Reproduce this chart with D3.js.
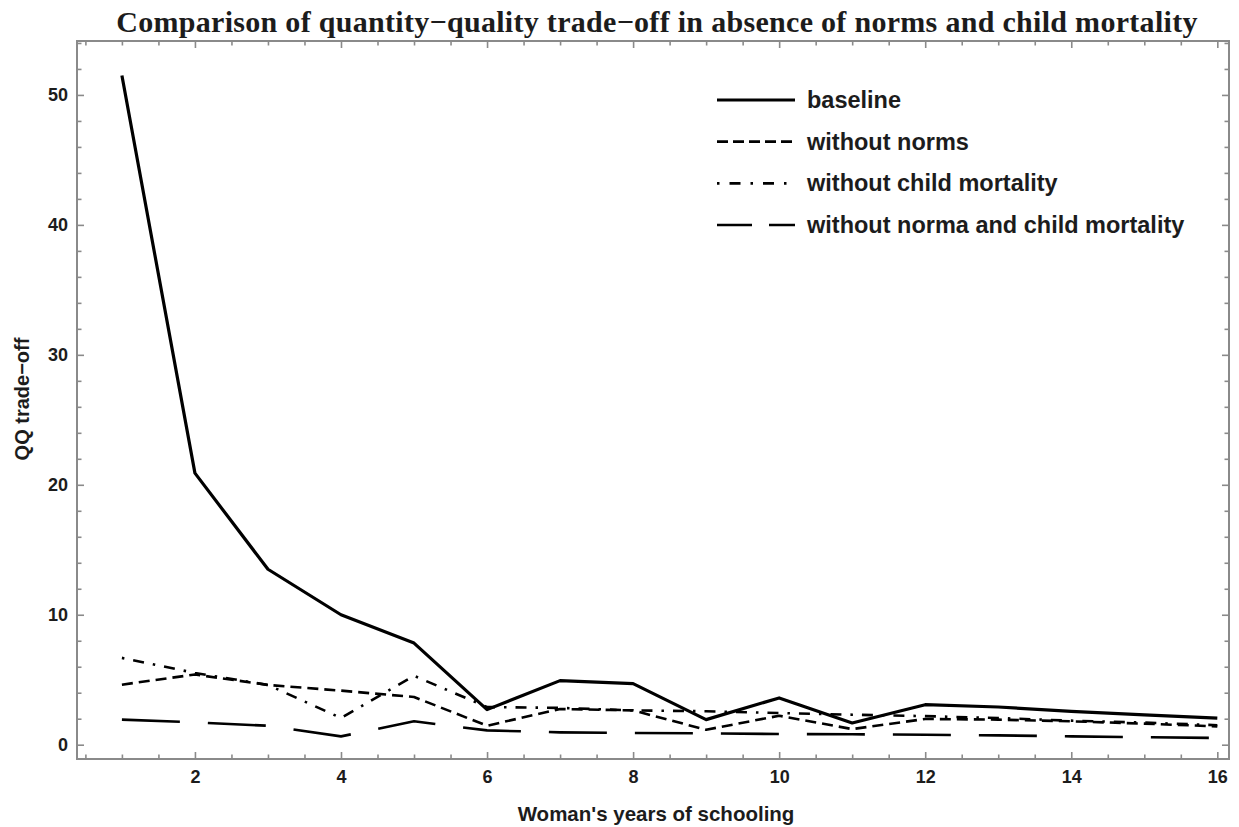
<!DOCTYPE html>
<html>
<head>
<meta charset="utf-8">
<script src="https://cdn.jsdelivr.net/npm/d3@7"></script>
<style>
  html, body { margin: 0; padding: 0; background: #fff; }
  svg { display: block; }
</style>
</head>
<body>
<svg id="chart" width="1239" height="827"></svg>
<script>
// Years of schooling (x) and QQ trade-off for each scenario
const years = [1, 2, 3, 4, 5, 6, 7, 8, 9, 10, 11, 12, 13, 14, 15, 16];
const baseline = [51.5, 20.9, 13.5, 10.0, 7.82, 2.7, 4.93, 4.7, 1.93, 3.6, 1.67, 3.08, 2.9, 2.57, 2.3, 2.05];
const withoutNorms = [4.62, 5.4, 4.6, 4.16, 3.67, 1.46, 2.75, 2.64, 1.15, 2.23, 1.2, 1.98, 1.93, 1.8, 1.62, 1.41];
const withoutChildMortality = [6.68, 5.52, 4.6, 2.05, 5.3, 2.9, 2.83, 2.64, 2.57, 2.44, 2.31, 2.2, 2.05, 1.85, 1.7, 1.5];
const withoutBoth = [1.93, 1.72, 1.46, 0.64, 1.8, 1.1, 0.95, 0.9, 0.88, 0.82, 0.8, 0.77, 0.72, 0.64, 0.58, 0.52];

const seriesNames = ["baseline", "without norms", "without child mortality", "without norma and child mortality"];

// Axis ticks
const xMajorTicks = [2, 4, 6, 8, 10, 12, 14, 16];
const xMinorTicks = [0.5, 1, 1.5, 2.5, 3, 3.5, 4.5, 5, 5.5, 6.5, 7, 7.5, 8.5, 9, 9.5, 10.5, 11, 11.5, 12.5, 13, 13.5, 14.5, 15, 15.5];
const yMajorTicks = [0, 10, 20, 30, 40, 50];
const yMinorTicks = [2, 4, 6, 8, 12, 14, 16, 18, 22, 24, 26, 28, 32, 34, 36, 38, 42, 44, 46, 48, 52, 54];

const titleText = "Comparison of quantity\u2212quality trade\u2212off in absence of norms and child mortality";
const xLabel = "Woman's years of schooling";
const yLabel = "QQ trade\u2212off";

// Frame geometry
const frame = { left: 77, right: 1229, top: 41, bottom: 759 };
const frameColor = "#8a8a8a";
const inkColor = "#1c1c1c";
const sansFont = "'Liberation Sans', Arial, sans-serif";

const svg = d3.select("#chart");

const x = d3.scaleLinear().domain([0.385, 16.16]).range([frame.left, frame.right]);
const y = d3.scaleLinear().domain([-1.1, 54.15]).range([frame.bottom, frame.top]);

// Line styles per series (dash patterns in px)
const styles = [
  { data: baseline, width: 3.2, dash: null, legendDash: null },
  { data: withoutNorms, width: 2.6, dash: "11,6", legendDash: "11,5" },
  { data: withoutChildMortality, width: 2.6, dash: "2.5,9,11,9", legendDash: "2.5,10,11,10" },
  { data: withoutBoth, width: 2.6, dash: "58,28", legendDash: "35,17" }
];

// Title
svg.append("text")
  .attr("x", 657).attr("y", 32)
  .attr("text-anchor", "middle")
  .attr("font-family", "'Liberation Serif', 'Times New Roman', serif")
  .attr("font-weight", "bold")
  .attr("font-size", 30)
  .attr("letter-spacing", 0.3)
  .attr("fill", inkColor)
  .text(titleText);

// Clip for data lines
svg.append("clipPath").attr("id", "plotClip")
  .append("rect")
  .attr("x", frame.left).attr("y", frame.top)
  .attr("width", frame.right - frame.left).attr("height", frame.bottom - frame.top);

const line = d3.line()
  .x((d, i) => x(years[i]))
  .y(d => y(d));

const plot = svg.append("g").attr("clip-path", "url(#plotClip)");
// draw lower series first so baseline sits on top
[3, 2, 1, 0].forEach(k => {
  const s = styles[k];
  plot.append("path")
    .datum(s.data)
    .attr("d", line)
    .attr("fill", "none")
    .attr("stroke", "#000")
    .attr("stroke-width", s.width)
    .attr("stroke-linejoin", "round")
    .attr("stroke-dasharray", s.dash);
});

// Axes: ticks pointing inward on all four sides
function styleAxis(g) {
  g.select(".domain").remove();
  g.selectAll(".tick line").attr("stroke", frameColor).attr("stroke-width", 1.6);
  g.selectAll(".tick text")
    .attr("fill", inkColor)
    .attr("font-family", sansFont)
    .attr("font-weight", "bold")
    .attr("font-size", 18);
}

const majorLen = 7, minorLen = 4.5;

// bottom
svg.append("g").attr("transform", `translate(0,${frame.bottom})`)
  .call(d3.axisBottom(x).tickValues(xMinorTicks).tickSize(-minorLen).tickFormat(""))
  .call(styleAxis);
svg.append("g").attr("transform", `translate(0,${frame.bottom})`)
  .call(d3.axisBottom(x).tickValues(xMajorTicks).tickSize(-majorLen).tickPadding(11).tickFormat(d3.format("d")))
  .call(styleAxis);
// top
svg.append("g").attr("transform", `translate(0,${frame.top})`)
  .call(d3.axisTop(x).tickValues(xMinorTicks).tickSize(-minorLen).tickFormat(""))
  .call(styleAxis);
svg.append("g").attr("transform", `translate(0,${frame.top})`)
  .call(d3.axisTop(x).tickValues(xMajorTicks).tickSize(-majorLen).tickFormat(""))
  .call(styleAxis);
// left
svg.append("g").attr("transform", `translate(${frame.left},0)`)
  .call(d3.axisLeft(y).tickValues(yMinorTicks).tickSize(-minorLen).tickFormat(""))
  .call(styleAxis);
svg.append("g").attr("transform", `translate(${frame.left},0)`)
  .call(d3.axisLeft(y).tickValues(yMajorTicks).tickSize(-majorLen).tickPadding(9).tickFormat(d3.format("d")))
  .call(styleAxis);
// right
svg.append("g").attr("transform", `translate(${frame.right},0)`)
  .call(d3.axisRight(y).tickValues(yMinorTicks).tickSize(-minorLen).tickFormat(""))
  .call(styleAxis);
svg.append("g").attr("transform", `translate(${frame.right},0)`)
  .call(d3.axisRight(y).tickValues(yMajorTicks).tickSize(-majorLen).tickFormat(""))
  .call(styleAxis);

// Frame
svg.append("rect")
  .attr("x", frame.left).attr("y", frame.top)
  .attr("width", frame.right - frame.left).attr("height", frame.bottom - frame.top)
  .attr("fill", "none")
  .attr("stroke", frameColor)
  .attr("stroke-width", 2);

// Axis labels
svg.append("text")
  .attr("x", 656).attr("y", 821)
  .attr("text-anchor", "middle")
  .attr("font-family", sansFont)
  .attr("font-weight", "bold")
  .attr("font-size", 20.5)
  .attr("fill", inkColor)
  .text(xLabel);

svg.append("text")
  .attr("transform", "translate(29,399) rotate(-90)")
  .attr("text-anchor", "middle")
  .attr("font-family", sansFont)
  .attr("font-weight", "bold")
  .attr("font-size", 20)
  .attr("fill", inkColor)
  .text(yLabel);

// Legend
const legendRowY = d3.scalePoint().domain(seriesNames).range([100, 225]);
const legend = svg.append("g");
seriesNames.forEach((name, k) => {
  const s = styles[k];
  const cy = legendRowY(name);
  legend.append("line")
    .attr("x1", 717).attr("x2", 795)
    .attr("y1", cy).attr("y2", cy)
    .attr("stroke", "#000")
    .attr("stroke-width", s.width)
    .attr("stroke-dasharray", s.legendDash);
  legend.append("text")
    .attr("x", 807).attr("y", cy + 8)
    .attr("font-family", sansFont)
    .attr("font-weight", "bold")
    .attr("font-size", 23.5)
    .attr("fill", inkColor)
    .text(name);
});
</script>
</body>
</html>
